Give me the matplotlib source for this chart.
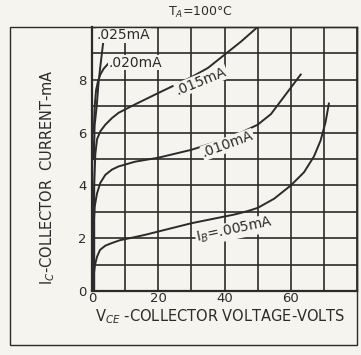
import matplotlib
matplotlib.use("Agg")
import matplotlib.pyplot as plt
from matplotlib.patches import Rectangle

plt.rcParams["font.family"] = ["DejaVu Sans"]
plt.rcParams["font.size"] = 9

INK = "#2b2b2b"
PAPER = "#f6f4ee"

# collector characteristics (V_CE in volts, I_C in mA)
vce_005 = [0.3, 0.5, 0.9, 1.5, 2.4, 4.0, 6.0, 8.5, 12, 16, 30, 43, 47, 50, 55,
           60, 64, 67, 69, 70.5, 71.5]
ic_005 = [0.0, 0.6, 1.0, 1.3, 1.56, 1.72, 1.82, 1.93, 2.02, 2.13, 2.57, 2.9, 3.03,
          3.15, 3.5, 4.0, 4.5, 5.1, 5.7, 6.4, 7.1]

vce_010 = [0.3, 0.5, 0.8, 1.5, 2.5, 4.0, 6.0, 8.0, 13, 20, 30, 40, 45, 50, 54,
           57, 60, 63]
ic_010 = [0.0, 2.5, 3.2, 3.7, 4.1, 4.4, 4.6, 4.72, 4.9, 5.05, 5.35, 5.75, 6.0,
          6.3, 6.7, 7.2, 7.7, 8.2]

vce_015 = [0.3, 0.6, 1.0, 1.5, 2.5, 4.0, 6.0, 8.0, 13, 20, 30, 35, 40, 45, 50]
ic_015 = [0.0, 4.0, 5.2, 5.75, 6.05, 6.3, 6.55, 6.75, 7.07, 7.5, 8.1, 8.45, 8.95,
          9.45, 10.0]

vce_020 = [0.5, 0.8, 1.2, 1.8, 2.5, 3.5, 4.8]
ic_020 = [6.0, 7.0, 7.6, 7.95, 8.2, 8.42, 8.6]

vce_025 = [0.4, 0.8, 1.4, 1.9, 2.4, 3.3, 4.0]
ic_025 = [5.0, 6.3, 7.0, 7.8, 8.4, 9.35, 9.8]

curves = [(vce_005, ic_005), (vce_010, ic_010), (vce_015, ic_015),
          (vce_020, ic_020), (vce_025, ic_025)]

# curve labels: text, V_CE, I_C, rotation
curve_labels = [
    (".025mA", 9.5, 9.7, 0),
    (".020mA", 13, 8.65, 0),
    (".015mA", 33, 7.95, 22),
    (".010mA", 41, 5.55, 20),
    ("I$_B$=.005mA", 43, 2.3, 12),
]

x_ticks = list(range(0, 81, 10))
x_labels = ["0", "", "20", "", "40", "", "60", "", ""]
y_ticks = list(range(0, 11))
y_labels = ["0", "", "2", "", "4", "", "6", "", "8", "", ""]

fig = plt.figure(figsize=(3.61, 3.55), dpi=100, facecolor=PAPER)
ax = fig.add_axes([0.255, 0.180, 0.734, 0.744])
ax.set_facecolor(PAPER)

fig.patches.append(Rectangle((0.028, 0.028), 0.961, 0.896, transform=fig.transFigure,
                             fill=False, edgecolor=INK, linewidth=1.0, zorder=0))

for v, i in curves:
    ax.plot(v, i, color=INK, linewidth=1.4, zorder=3, solid_joinstyle="round")
ax.axvline(0.6, color=INK, linewidth=1.0, ymax=0.6, zorder=3)

for text, v, i, rot in curve_labels:
    ax.text(v, i, text, rotation=rot, ha="center", va="center", color=INK,
            fontsize=10, zorder=4,
            bbox=dict(boxstyle="square,pad=0.05", facecolor=PAPER, edgecolor="none"))

ax.set_xlim(0, 80)
ax.set_ylim(0, 10)
ax.set_xticks(x_ticks)
ax.set_xticklabels(x_labels)
ax.set_yticks(y_ticks)
ax.set_yticklabels(y_labels)
ax.tick_params(length=0, colors=INK, labelsize=9.5)
ax.tick_params(axis="x", pad=1)
ax.tick_params(axis="y", pad=4)
ax.grid(True, color=INK, linewidth=1.2, zorder=1)
ax.set_axisbelow(True)
for side in ["left", "bottom"]:
    ax.spines[side].set_linewidth(1.6)
for side in ["top", "right"]:
    ax.spines[side].set_linewidth(1.0)
for sp in ax.spines.values():
    sp.set_color(INK)

fig.text(0.555, 0.965, "T$_A$=100°C", ha="center", va="center", color=INK, fontsize=9)
fig.text(0.61, 0.108, "V$_{CE}$ -COLLECTOR VOLTAGE-VOLTS", ha="center", va="center",
         color=INK, fontsize=10.5)
fig.text(0.133, 0.50, "I$_C$-COLLECTOR  CURRENT-mA", rotation=90, ha="center",
         va="center", color=INK, fontsize=10.5)

plt.savefig("out.png", dpi=100, facecolor=PAPER)
plt.close()
